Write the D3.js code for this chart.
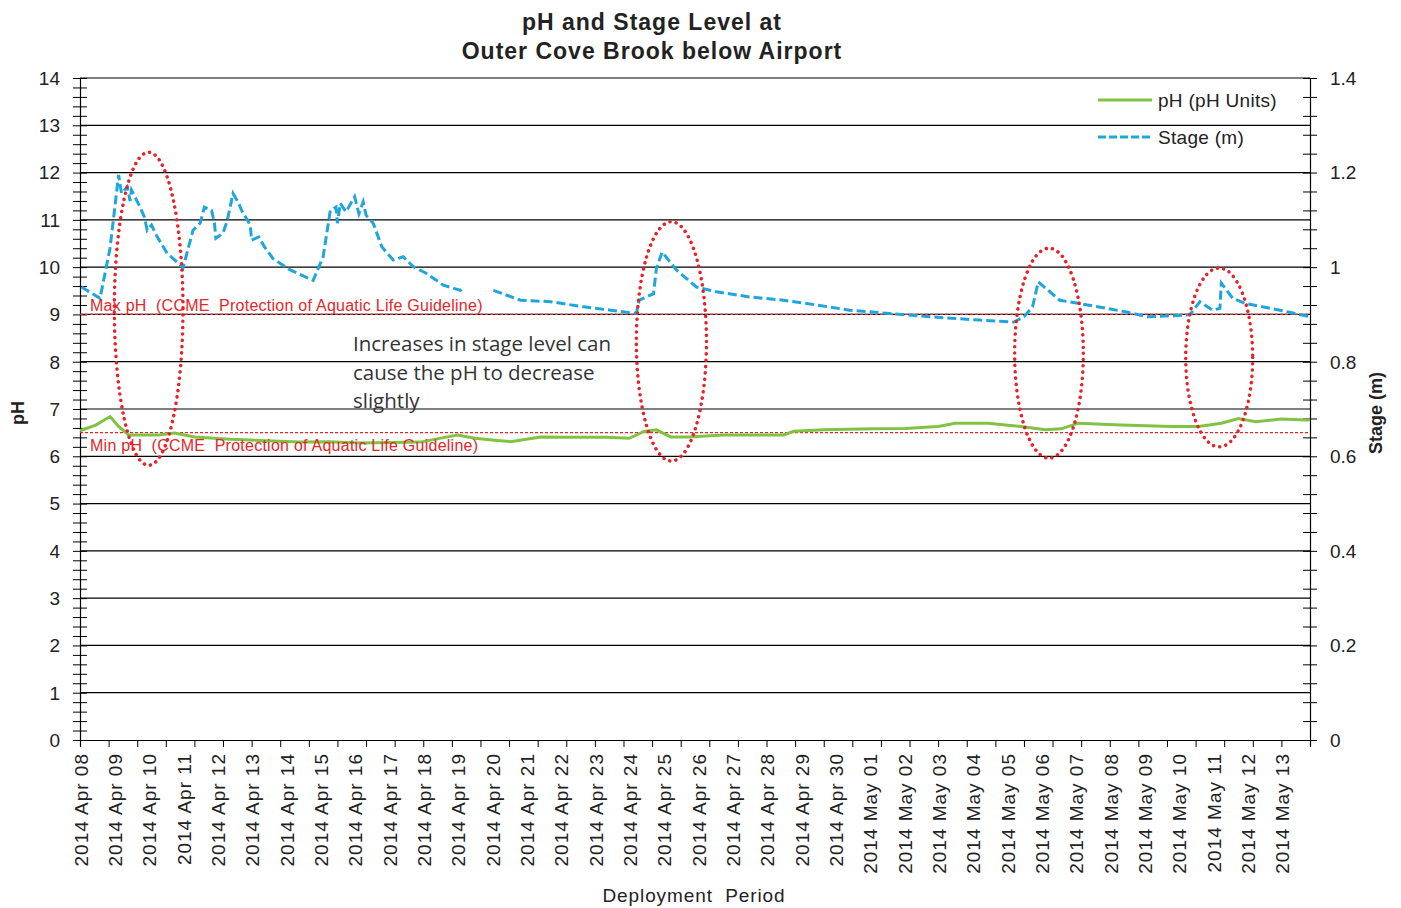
<!DOCTYPE html>
<html>
<head>
<meta charset="utf-8">
<script src="https://cdn.jsdelivr.net/npm/d3@7"></script>
<style>
  body { margin: 0; background: #fff; }
  svg { display: block; }
  text { font-family: Arial, "Liberation Sans", sans-serif; fill: #222; }
</style>
</head>
<body>
<svg id="chart" width="1401" height="908"></svg>
<script>
// ---- Data ----
const stageTimes = [
  "2014-04-08 01:00","2014-04-08 14:00","2014-04-08 21:00","2014-04-09 03:00","2014-04-09 05:00",
  "2014-04-09 09:00","2014-04-09 11:00","2014-04-09 12:00","2014-04-09 18:00","2014-04-09 21:00",
  "2014-04-09 23:00","2014-04-10 02:00","2014-04-10 06:00","2014-04-10 13:00","2014-04-10 21:00",
  "2014-04-11 00:00","2014-04-11 07:00","2014-04-11 12:00","2014-04-11 15:00","2014-04-11 20:00",
  "2014-04-11 22:00","2014-04-11 23:00","2014-04-12 04:00","2014-04-12 07:00","2014-04-12 11:00",
  "2014-04-12 15:00","2014-04-12 17:00","2014-04-12 23:00","2014-04-13 00:00","2014-04-13 05:00",
  "2014-04-13 09:00","2014-04-13 15:00","2014-04-14 03:00","2014-04-14 19:00","2014-04-15 02:00",
  "2014-04-15 07:00","2014-04-15 11:00","2014-04-15 12:00","2014-04-15 14:00","2014-04-15 18:00",
  "2014-04-16 00:00","2014-04-16 03:00","2014-04-16 06:00","2014-04-16 08:00","2014-04-16 13:00",
  "2014-04-16 19:00","2014-04-17 03:00","2014-04-17 10:00","2014-04-17 17:00","2014-04-18 02:00",
  "2014-04-18 14:00","2014-04-19 02:00","2014-04-19 04:00","2014-04-19 14:00",
  "2014-04-20 01:00","2014-04-20 20:00","2014-04-21 17:00","2014-04-22 16:00","2014-04-23 11:00",
  "2014-04-24 05:00","2014-04-24 07:00","2014-04-24 12:00","2014-04-24 17:00","2014-04-24 19:00",
  "2014-04-24 23:00","2014-04-25 09:00","2014-04-25 23:00","2014-04-26 13:00","2014-04-27 12:00",
  "2014-04-28 12:00","2014-04-29 11:00","2014-04-30 10:00","2014-05-01 14:00","2014-05-02 18:00",
  "2014-05-04 05:00","2014-05-05 05:00","2014-05-05 12:00","2014-05-05 18:00","2014-05-05 22:00",
  "2014-05-06 13:00","2014-05-07 03:00","2014-05-08 12:00","2014-05-09 02:00","2014-05-10 08:00",
  "2014-05-10 15:00","2014-05-11 00:00","2014-05-11 05:00","2014-05-11 06:00","2014-05-11 14:00",
  "2014-05-11 23:00","2014-05-12 23:00","2014-05-13 20:00"
];
const stageValues = [
  0.958,0.934,1.040,1.195,1.156,
  1.170,1.140,1.163,1.127,1.106,
  1.078,1.089,1.064,1.029,1.008,
  0.998,1.078,1.093,1.127,1.120,
  1.093,1.061,1.072,1.099,1.156,
  1.135,1.120,1.089,1.057,1.064,
  1.043,1.018,0.994,0.972,1.022,
  1.120,1.127,1.093,1.135,1.117,
  1.149,1.113,1.138,1.110,1.093,
  1.043,1.015,1.022,1.001,0.987,
  0.962,0.951,0.958,null,
  0.951,0.930,0.927,0.916,0.909,
  0.902,0.930,0.937,0.944,0.997,
  1.032,0.994,0.958,0.948,0.937,
  0.930,0.920,0.909,0.902,0.895,
  0.888,0.884,0.895,0.916,0.969,
  0.930,0.923,0.905,0.895,0.899,
  0.927,0.909,0.913,0.966,0.934,
  0.923,0.909,0.895
];

const phTimes = [
  "2014-04-08 00:00","2014-04-08 11:00","2014-04-08 21:00","2014-04-09 03:00","2014-04-09 10:00",
  "2014-04-10 07:00","2014-04-10 18:00","2014-04-11 08:00","2014-04-12 09:00","2014-04-13 10:00",
  "2014-04-14 10:00","2014-04-15 06:00","2014-04-16 04:00","2014-04-17 01:00","2014-04-17 22:00",
  "2014-04-18 15:00","2014-04-19 00:00","2014-04-19 12:00",
  "2014-04-20 02:00","2014-04-20 13:00","2014-04-21 10:00","2014-04-22 09:00","2014-04-23 08:00",
  "2014-04-24 00:00","2014-04-24 10:00","2014-04-24 19:00","2014-04-25 05:00","2014-04-25 18:00",
  "2014-04-26 18:00","2014-04-28 12:00","2014-04-28 19:00","2014-04-29 16:00","2014-05-01 03:00",
  "2014-05-02 01:00","2014-05-03 00:00","2014-05-03 12:00","2014-05-04 11:00","2014-05-05 10:00",
  "2014-05-06 03:00","2014-05-06 14:00","2014-05-07 02:00","2014-05-08 08:00","2014-05-09 19:00",
  "2014-05-10 14:00","2014-05-11 06:00","2014-05-11 18:00","2014-05-12 06:00","2014-05-13 00:00",
  "2014-05-13 17:00","2014-05-13 20:00"
];
const phValues = [
  6.54,6.66,6.84,6.63,6.45,
  6.45,6.49,6.41,6.36,6.33,
  6.30,6.31,6.28,6.29,6.30,
  6.40,6.45,6.38,
  6.34,6.31,6.41,6.40,6.40,
  6.38,6.52,6.56,6.41,6.41,
  6.45,6.45,6.53,6.56,6.58,
  6.59,6.63,6.70,6.70,6.63,
  6.56,6.58,6.70,6.66,6.63,
  6.63,6.70,6.80,6.73,6.79,
  6.77,6.77
];

const phTicks = [0,1,2,3,4,5,6,7,8,9,10,11,12,13,14];
const stageTicks = [0,0.2,0.4,0.6,0.8,1,1.2,1.4];
const guidelineValues = [9, 6.5];
const guidelineLabels = ["Max pH  (CCME  Protection of Aquatic Life Guideline)",
                         "Min pH  (CCME  Protection of Aquatic Life Guideline)"];

// highlighted events: centre time, centre pH, half-width (hours), half-height (pH)
const eventCentres = ["2014-04-10 00:00","2014-04-25 05:30","2014-05-06 05:30","2014-05-11 04:30"];
const eventCentrePh = [9.12, 8.43, 8.18, 8.09];
const eventHalfHours = [24, 24.5, 24, 23.4];
const eventHalfPh = [3.31, 2.53, 2.22, 1.89];

const noteLines = ["Increases in stage level can", "cause the pH to decrease", "slightly"];

// ---- Layout ----
const svg = d3.select("#chart");
const M = { left: 80, right: 1310, top: 78, bottom: 740 };
const parse = d3.timeParse("%Y-%m-%d %H:%M");
const t0 = parse("2014-04-08 00:00");
const t1 = d3.timeHour.offset(t0, 860);

const x = d3.scaleTime().domain([t0, t1]).range([M.left, M.right]);
const yPh = d3.scaleLinear().domain([0, 14]).range([M.bottom, M.top]);
const yStage = d3.scaleLinear().domain([0, 1.4]).range([M.bottom, M.top]);

// gridlines
svg.append("g").selectAll("line").data(phTicks.filter(d => d > 0)).join("line")
  .attr("x1", M.left).attr("x2", M.right)
  .attr("y1", d => yPh(d)).attr("y2", d => yPh(d))
  .attr("stroke", "#000").attr("stroke-width", 1.2);

// left axis (pH) with minor ticks every 0.2
const phMinor = d3.range(0, 14.001, 0.2);
const gL = svg.append("g").attr("transform", `translate(${M.left},0)`)
  .call(d3.axisLeft(yPh).tickValues(phMinor).tickSize(7).tickFormat(""));
gL.selectAll(".tick line").attr("x2", 7).attr("x1", -7).attr("stroke", "#000");
gL.select(".domain").attr("stroke", "#000").attr("stroke-width", 1.2);
svg.append("g").selectAll("text").data(phTicks).join("text")
  .attr("x", 60).attr("y", d => yPh(d)).attr("dy", "0.36em")
  .attr("text-anchor", "end").attr("font-size", 19).text(d => d);

// right axis (stage) with minor ticks every 0.04
const stMinor = d3.range(0, 1.4001, 0.04);
const gR = svg.append("g").attr("transform", `translate(${M.right},0)`)
  .call(d3.axisRight(yStage).tickValues(stMinor).tickSize(7).tickFormat(""));
gR.selectAll(".tick line").attr("x1", -7).attr("x2", 7).attr("stroke", "#000");
gR.select(".domain").attr("stroke", "#000").attr("stroke-width", 1.2);
svg.append("g").selectAll("text").data(stageTicks).join("text")
  .attr("x", 1330).attr("y", d => yStage(d)).attr("dy", "0.36em")
  .attr("text-anchor", "start").attr("font-size", 19).text(d => d3.format("~g")(d));

// bottom axis: ticks every 20 hours, date labels each day
const tickDates = d3.range(0, 861, 20).map(h => d3.timeHour.offset(t0, h));
const gB = svg.append("g").attr("transform", `translate(0,${M.bottom})`)
  .call(d3.axisBottom(x).tickValues(tickDates).tickSize(7).tickFormat(""));
gB.selectAll(".tick line").attr("stroke", "#000");
gB.select(".domain").attr("stroke", "#000").attr("stroke-width", 1.2);
const days = d3.timeDay.range(t0, d3.timeDay.offset(parse("2014-05-13 00:00"), 1));
const fmt = d3.timeFormat("%Y %b %d");
svg.append("g").selectAll("text").data(days).join("text")
  .attr("transform", d => `translate(${x(d) + 1},753) rotate(-90)`)
  .attr("dy", "0.36em").attr("text-anchor", "end")
  .attr("font-size", 19).attr("letter-spacing", 1.0)
  .text(d => fmt(d));

// guideline lines
svg.append("g").selectAll("line").data(guidelineValues).join("line")
  .attr("x1", M.left).attr("x2", M.right)
  .attr("y1", d => yPh(d)).attr("y2", d => yPh(d))
  .attr("stroke", "#e4262b").attr("stroke-width", 1.2).attr("stroke-dasharray", "3,2");

// series
const stageData = stageTimes.map((t, i) => ({ t: parse(t), v: stageValues[i] }));
const phData = phTimes.map((t, i) => ({ t: parse(t), v: phValues[i] }));

svg.append("path").datum(phData)
  .attr("fill", "none").attr("stroke", "#80c342").attr("stroke-width", 3)
  .attr("d", d3.line().x(d => x(d.t)).y(d => yPh(d.v)));

svg.append("path").datum(stageData)
  .attr("fill", "none").attr("stroke", "#1ea6dc").attr("stroke-width", 3)
  .attr("stroke-dasharray", "9,4")
  .attr("d", d3.line().defined(d => d.v != null).x(d => x(d.t)).y(d => yStage(d.v)));

// guideline labels
svg.append("g").selectAll("text").data(guidelineLabels).join("text")
  .attr("x", 90).attr("y", (d, i) => i === 0 ? 311 : 451)
  .attr("font-size", 16).attr("letter-spacing", 0.25)
  .style("white-space", "pre").style("fill", "#e4262b")
  .text(d => d);

// highlight ellipses
svg.append("g").selectAll("ellipse").data(eventCentres).join("ellipse")
  .attr("cx", d => x(parse(d)))
  .attr("cy", (d, i) => yPh(eventCentrePh[i]))
  .attr("rx", (d, i) => x(d3.timeMinute.offset(parse(d), eventHalfHours[i] * 60)) - x(parse(d)))
  .attr("ry", (d, i) => yPh(0) - yPh(eventHalfPh[i]))
  .attr("fill", "none").attr("stroke", "#e8202a").attr("stroke-width", 3.5)
  .attr("stroke-dasharray", "0.1,6.2").attr("stroke-linecap", "round");

// note
svg.append("g").selectAll("text").data(noteLines).join("text")
  .attr("x", 353).attr("y", (d, i) => 351 + i * 28.5)
  .attr("font-size", 20.5).style("font-family", "'Open Sans', sans-serif")
  .style("fill", "#333").text(d => d);

// legend
const legend = svg.append("g");
legend.append("line").attr("x1", 1098).attr("x2", 1152).attr("y1", 100).attr("y2", 100)
  .attr("stroke", "#80c342").attr("stroke-width", 3);
legend.append("text").attr("x", 1158).attr("y", 107).attr("font-size", 19)
  .attr("letter-spacing", 0.3).text("pH (pH Units)");
legend.append("line").attr("x1", 1098).attr("x2", 1152).attr("y1", 137).attr("y2", 137)
  .attr("stroke", "#1ea6dc").attr("stroke-width", 3).attr("stroke-dasharray", "8,3");
legend.append("text").attr("x", 1158).attr("y", 144).attr("font-size", 19)
  .attr("letter-spacing", 0.3).text("Stage (m)");

// titles
svg.append("text").attr("x", 652).attr("y", 30).attr("text-anchor", "middle")
  .attr("font-size", 23).attr("font-weight", "bold").attr("letter-spacing", 1.0)
  .text("pH and Stage Level at");
svg.append("text").attr("x", 652).attr("y", 59).attr("text-anchor", "middle")
  .attr("font-size", 23).attr("font-weight", "bold").attr("letter-spacing", 1.0)
  .text("Outer Cove Brook below Airport");
svg.append("text").attr("transform", "translate(18,413) rotate(-90)")
  .attr("text-anchor", "middle").attr("dy", "0.36em")
  .attr("font-size", 18).attr("font-weight", "bold").text("pH");
svg.append("text").attr("transform", "translate(1376,413) rotate(-90)")
  .attr("text-anchor", "middle").attr("dy", "0.36em")
  .attr("font-size", 18).attr("font-weight", "bold").text("Stage (m)");
svg.append("text").attr("x", 694).attr("y", 902).attr("text-anchor", "middle")
  .attr("font-size", 19).attr("letter-spacing", 0.9).style("white-space", "pre")
  .text("Deployment  Period");
</script>
</body>
</html>
